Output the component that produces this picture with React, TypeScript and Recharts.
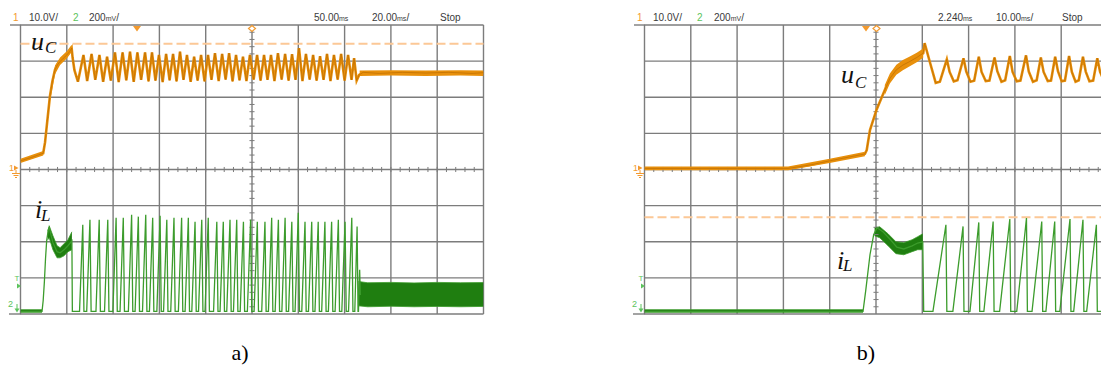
import {
  ComposedChart,
  Line,
  Area,
  XAxis,
  YAxis,
  CartesianGrid,
  ReferenceLine,
} from "recharts";

const ORANGE = "#E8900C";
const ORANGE_CORE = "#B86A00";
const GREEN = "#3C9C2C";
const GREEN_DK = "#1F7E10";
const GRID = "#7c7c7c";
const DASH = "#FCC896";
const MARK_OR = "#F39A2E";
const MARK_GR = "#5CC35C";

// graticule: 10 x 8 divisions, ch1 10 V/div, ch2 200 mV/div
const VOLT_TICKS = [-40, -30, -20, -10, 0, 10, 20, 30, 40];
const TIME_A = [0, 20, 40, 60, 80, 100, 120, 140, 160, 180, 200]; // 20 ms/div
const TIME_B = [0, 10, 20, 30, 40, 50, 60, 70, 80, 90, 100]; // 10 ms/div

// ---- panel a) : [t ms, uC V] ----
const UC_A = [
  [0, 2.4], [5, 3.4], [9.8, 4.5], [10.6, 7.5], [11.5, 13], [12.7, 20.2], [13.8, 24.5],
  [14.9, 27.6], [16, 29], [17.1, 29.9], [18.5, 30.8], [20, 31.7], [21.2, 32.6], [22.1, 33.6],
  [22.5, 31], [23.3, 27.5], [24.8, 24.3],
  [27.2, 31.7], [28.8, 24.5], [30.7, 32.0], [32.3, 24.8], [34.1, 31.7], [35.7, 24.3],
  [37.4, 31.2], [39.0, 24.6], [40.8, 32.4], [42.4, 24.2], [44.1, 32.4], [45.7, 24.7],
  [47.3, 32.6], [48.9, 24.3], [50.5, 32.4], [52.1, 24.8], [53.8, 32.4], [55.3, 24.4],
  [56.8, 32.4], [58.3, 24.6], [59.8, 31.7], [61.4, 24.2], [62.9, 32.0], [64.4, 24.7],
  [65.9, 32.0], [67.4, 24.4], [68.9, 32.6], [70.4, 24.8], [71.9, 31.7], [73.5, 24.3],
  [75.0, 31.2], [76.5, 24.6], [78.0, 31.7], [79.5, 24.4], [81.0, 31.7], [82.5, 24.8],
  [84.0, 32.2], [85.6, 24.5], [87.1, 32.0], [88.6, 24.9], [90.1, 32.2], [91.6, 24.4],
  [93.1, 31.7], [94.6, 24.7], [96.1, 31.2], [97.6, 24.5], [99.1, 31.7], [100.7, 24.9],
  [102.2, 31.7], [103.7, 24.6], [105.2, 31.7], [106.7, 24.8], [108.2, 31.7], [109.7, 24.5],
  [111.2, 32.2], [112.8, 24.9], [114.3, 32.0], [115.8, 24.6], [117.3, 31.9], [118.8, 24.8],
  [120.3, 33.6], [121.8, 24.5], [123.3, 32.0], [124.9, 24.9], [126.4, 31.7], [127.9, 24.6],
  [129.4, 31.4], [130.9, 24.8], [132.4, 32.0], [133.9, 24.5], [135.4, 31.7], [137.0, 24.9],
  [138.5, 32.0], [140.0, 24.6], [141.5, 31.7], [143.0, 24.8], [144.1, 30.8], [145.2, 24.6],
  [146.3, 26.2], [148, 26.9], [155, 26.6], [165, 26.9], [175, 26.7], [185, 26.9],
  [195, 26.6], [200, 26.8],
];
// [t, lo, hi] noisy / thick parts of uC
const UC_A_BANDS = [
  [[0, 1.8, 3.0], [9.8, 3.9, 5.1]],
  [[12.7, 18.8, 21.4], [14.9, 26.4, 28.8], [17.1, 28.9, 31.0], [20, 30.7, 32.7], [22.1, 32.5, 34.5]],
  [[146.5, 25.9, 27.4], [160, 26.0, 27.5], [175, 25.9, 27.4], [190, 26.0, 27.5], [200, 25.9, 27.4]],
];

// [t ms, iL mV]
const IL_A = [
  [0, 0], [9.3, 0], [9.8, 60], [10.3, 160], [10.8, 290], [11.3, 390], [12.0, 450], [12.4, 462],
  [14.0, 380], [15.8, 330], [17.1, 324], [18.8, 340], [20.5, 363], [22.2, 390], [22.4, 0],
  [25.5, 0], [26.9, 479], [27.4, 0], [28.6, 0], [30.0, 507], [30.5, 0],
  [32.6, 0], [34.0, 507], [34.5, 0], [36.3, 0], [37.7, 507], [38.2, 0],
  [39.9, 0], [41.3, 518], [41.8, 0], [43.0, 0], [44.4, 518], [44.9, 0],
  [46.6, 0], [48.0, 535], [48.5, 0], [49.5, 0], [50.9, 524], [51.4, 0],
  [52.7, 0], [54.1, 535], [54.6, 0], [55.7, 0], [57.1, 518], [57.6, 0],
  [58.9, 0], [60.3, 529], [60.8, 0], [61.8, 0], [63.2, 507], [63.7, 0],
  [64.9, 0], [66.3, 518], [66.8, 0], [68.2, 0], [69.6, 518], [70.1, 0],
  [71.1, 0], [72.5, 518], [73.0, 0], [74.0, 0], [75.4, 496], [75.9, 0],
  [76.9, 0], [78.3, 507], [78.8, 0], [79.7, 0], [81.1, 518], [81.6, 0],
  [83.4, 0], [84.8, 496], [85.3, 0], [86.2, 0], [87.6, 496], [88.1, 0],
  [89.1, 0], [90.5, 507], [91.0, 0], [92.0, 0], [93.4, 507], [93.9, 0],
  [94.9, 0], [96.3, 496], [96.8, 0], [98.0, 0], [99.4, 507], [99.9, 0],
  [100.9, 0], [102.3, 496], [102.8, 0], [104.2, 0], [105.6, 496], [106.1, 0],
  [107.1, 0], [108.5, 518], [109.0, 0], [110.0, 0], [111.4, 507], [111.9, 0],
  [112.9, 0], [114.3, 518], [114.8, 0], [115.8, 0], [117.2, 496], [117.7, 0],
  [118.6, 0], [120.0, 546], [120.5, 0], [121.5, 0], [122.9, 496], [123.4, 0],
  [124.4, 0], [125.8, 496], [126.3, 0], [127.2, 0], [128.6, 496], [129.1, 0],
  [130.1, 0], [131.5, 496], [132.0, 0], [133.0, 0], [134.4, 496], [134.9, 0],
  [135.9, 0], [137.3, 507], [137.8, 0], [138.8, 0], [140.2, 496], [140.7, 0],
  [141.7, 0], [143.1, 518], [143.6, 0], [144.4, 0], [145.4, 470], [145.8, 0],
  [146.0, 0], [146.5, 230], [146.8, 90],
];
const IL_A_BANDS = [
  [[0, -6, 9], [9.3, -6, 9]],
  [[11.8, 396, 445], [12.4, 407, 474], [14.0, 341, 418], [15.8, 296, 363], [17.1, 296, 352],
    [18.8, 307, 374], [20.5, 330, 396], [22.2, 341, 440]],
  [[146.0, 30, 165], [150, 25, 158], [160, 28, 160], [170, 25, 157], [180, 27, 160],
    [190, 25, 158], [200, 27, 159]],
];

// ---- panel b) ----
const UC_B = [
  [0, 0.3], [20, 0.3], [31.0, 0.3], [36, 1.3], [40, 2.4], [44, 3.4], [47.6, 4.3], [48.0, 5.4],
  [48.7, 10.9], [50.1, 16.5], [51.9, 22.0], [53.0, 25.2], [54.4, 27.6], [55.8, 28.9],
  [57.3, 29.9], [58.8, 31.0], [60.2, 32.2],
  [60.5, 35.0], [61.6, 29.9], [62.9, 24.0], [63.8, 24.3],
  [65.3, 30.5], [65.9, 27.0], [66.8, 24.4], [67.6, 24.7],
  [68.9, 30.8], [69.5, 27.1], [70.4, 24.3], [71.2, 24.6],
  [72.2, 31.2], [72.8, 27.0], [73.7, 24.5], [74.5, 24.6],
  [75.6, 31.0], [76.2, 27.2], [77.1, 24.3], [77.9, 24.7],
  [78.9, 31.4], [79.5, 27.0], [80.4, 24.4], [81.2, 24.6],
  [82.4, 31.6], [83.0, 27.1], [83.9, 24.3], [84.7, 24.7],
  [85.6, 31.0], [86.2, 27.0], [87.1, 24.5], [87.8, 24.6],
  [88.7, 31.2], [89.3, 27.2], [90.1, 24.4], [90.8, 24.6],
  [91.7, 31.4], [92.3, 27.0], [93.1, 24.3], [93.8, 24.7],
  [94.7, 31.2], [95.3, 27.1], [96.1, 24.4], [96.9, 24.6],
  [97.8, 30.8], [98.4, 27.0], [99.3, 24.4], [100, 24.6],
];
const UC_B_BANDS = [
  [[0, -0.2, 0.8], [31.0, -0.2, 0.8], [40, 1.8, 3.0], [47.6, 3.7, 4.9]],
  [[51.9, 20.6, 23.4], [53.0, 23.8, 26.6], [54.4, 26.2, 29.0], [55.8, 27.5, 30.3],
    [57.3, 28.6, 31.3], [58.8, 29.7, 32.3], [60.2, 30.9, 33.5]],
];

const IL_B = [
  [0, 0], [20, 0], [47.2, 0], [47.8, 119], [48.7, 313], [49.5, 424], [50.2, 463],
  [51.5, 440], [53.0, 400], [54.5, 355], [56.0, 345], [57.8, 362], [59.0, 378], [60.1, 385],
  [60.3, 0],
  [62.3, 0], [65.1, 479], [65.3, 0], [66.6, 0], [68.8, 470], [69.0, 0],
  [70.3, 0], [72.2, 492], [72.4, 0], [73.3, 0], [75.3, 497], [75.5, 0],
  [76.7, 0], [78.9, 511], [79.1, 0], [80.4, 0], [82.5, 516], [82.7, 0],
  [83.7, 0], [85.8, 497], [86.0, 0], [86.7, 0], [88.6, 497], [88.8, 0],
  [89.7, 0], [91.9, 511], [92.1, 0], [92.7, 0], [94.7, 507], [94.9, 0],
  [95.5, 0], [97.6, 479], [97.8, 0], [100, 0],
];
const IL_B_BANDS = [
  [[0, -6, 9], [47.2, -6, 9]],
  [[49.7, 418, 463], [50.8, 407, 468], [52.6, 363, 429], [54.3, 319, 385], [56.0, 313, 380],
    [57.8, 330, 396], [59.0, 341, 413], [60.1, 341, 429]],
];

// minor graticule marks on the centre lines
const MINOR_V = Array.from({ length: 39 }, (_, i) => -38 + i * 2);
const minorT = (step: number) => Array.from({ length: 49 }, (_, i) => (i + 1) * step);

const pts = (a: number[][]) => a.map(([t, v]) => ({ t, v }));
const band = (a: number[][]) => a.map(([t, lo, hi]) => ({ t, r: [lo, hi] }));

type PanelProps = {
  left: number;
  tMax: number;
  tTicks: number[];
  tStep: number;
  tHalf: number;
  uc: number[][];
  ucBands: number[][][];
  il: number[][];
  ilBands: number[][][];
  dashAxis: "u" | "i";
  dashY: number;
};

function Panel(p: PanelProps) {
  const mid = p.tMax / 2;
  return (
    <div style={{ position: "absolute", left: p.left, top: 0 }}>
      <ComposedChart
        width={500}
        height={330}
        margin={{ top: 25, right: 16.5, bottom: 16, left: 20.5 }}
      >
        <XAxis type="number" dataKey="t" domain={[0, p.tMax]} ticks={p.tTicks} hide allowDataOverflow />
        <YAxis yAxisId="u" type="number" domain={[-40, 40]} ticks={VOLT_TICKS} hide allowDataOverflow />
        <YAxis yAxisId="i" type="number" domain={[-15, 1585]} hide allowDataOverflow />
        <CartesianGrid yAxisId="u" stroke={GRID} strokeWidth={1.4} />
        {minorT(p.tStep).map((t) => (
          <ReferenceLine
            key={"mt" + t}
            yAxisId="u"
            segment={[{ x: t, y: -0.7 }, { x: t, y: 0.7 }]}
            stroke={GRID}
          />
        ))}
        {MINOR_V.map((v) => (
          <ReferenceLine
            key={"mv" + v}
            yAxisId="u"
            segment={[{ x: mid - p.tHalf, y: v }, { x: mid + p.tHalf, y: v }]}
            stroke={GRID}
          />
        ))}
        <ReferenceLine
          yAxisId={p.dashAxis}
          y={p.dashY}
          stroke={DASH}
          strokeWidth={2}
          strokeDasharray="9 4"
        />
        {p.ucBands.map((b, i) => (
          <Area
            key={"ub" + i}
            yAxisId="u"
            data={band(b)}
            dataKey="r"
            type="linear"
            stroke="none"
            fill={ORANGE}
            fillOpacity={1}
            dot={false}
            activeDot={false}
            isAnimationActive={false}
          />
        ))}
        <Line yAxisId="u" data={pts(p.uc)} dataKey="v" type="linear" stroke={ORANGE}
          strokeWidth={2.6} dot={false} activeDot={false} isAnimationActive={false} />
        <Line yAxisId="u" data={pts(p.uc)} dataKey="v" type="linear" stroke={ORANGE_CORE}
          strokeWidth={0.8} strokeOpacity={0.8} dot={false} activeDot={false} isAnimationActive={false} />
        {p.ilBands.map((b, i) => (
          <Area
            key={"ib" + i}
            yAxisId="i"
            data={band(b)}
            dataKey="r"
            type="linear"
            stroke={GREEN}
            strokeWidth={0.8}
            fill={GREEN_DK}
            fillOpacity={1}
            dot={false}
            activeDot={false}
            isAnimationActive={false}
          />
        ))}
        <Line yAxisId="i" data={pts(p.il)} dataKey="v" type="linear" stroke={GREEN}
          strokeWidth={1.3} dot={false} activeDot={false} isAnimationActive={false} />
      </ComposedChart>
    </div>
  );
}

const HEAD = { fontFamily: "'Liberation Sans', Arial, sans-serif", fontSize: 10, fill: "#3a3a3a" };
const SERIF = "'Liberation Serif', 'Times New Roman', serif";

function Unit({ u }: { u: string }) {
  return <tspan fontSize={7}>{u}</tspan>;
}

function ChannelMarks({ dx }: { dx: number }) {
  return (
    <g transform={`translate(${dx},0)`}>
      <line x1={10} y1={25} x2={21} y2={25} stroke={GRID} strokeWidth={1.4} />
      <line x1={9} y1={314} x2={21} y2={314} stroke={GRID} strokeWidth={1.4} />
      <text x={9} y={171} fontSize={9} fill={MARK_OR} fontFamily="'Liberation Sans', sans-serif">1</text>
      <polygon points="14,165.5 14,170.5 18.5,168" fill={MARK_OR} />
      <line x1={16} y1={170} x2={16} y2={173} stroke={MARK_OR} />
      <line x1={12} y1={173.5} x2={20} y2={173.5} stroke={MARK_OR} />
      <line x1={13.5} y1={175.5} x2={18.5} y2={175.5} stroke={MARK_OR} />
      <line x1={15} y1={177.5} x2={17} y2={177.5} stroke={MARK_OR} />
      <text x={14.5} y={281} fontSize={8} fill={MARK_GR} fontFamily="'Liberation Sans', sans-serif">T</text>
      <polygon points="17,283.5 17,288.5 21,286" fill={MARK_GR} />
      <text x={8} y={307} fontSize={9} fill={MARK_GR} fontFamily="'Liberation Sans', sans-serif">2</text>
      <line x1={17} y1={304} x2={17} y2={310} stroke={MARK_GR} />
      <polygon points="14.5,308.5 19.5,308.5 17,312.5" fill={MARK_GR} />
    </g>
  );
}

function TrigMarks({ tri, dia }: { tri: number; dia: number }) {
  return (
    <g>
      <polygon points={`${tri - 4},26 ${tri + 4},26 ${tri},31.5`} fill={MARK_OR} />
      <polygon
        points={`${dia},25.5 ${dia + 3.5},28.5 ${dia},31.5 ${dia - 3.5},28.5`}
        fill="#fff"
        stroke={MARK_OR}
        strokeWidth={1.2}
      />
    </g>
  );
}

export default function App() {
  return (
    <div
      style={{
        position: "absolute",
        left: 0,
        top: 0,
        width: 1101,
        height: 367,
        overflow: "hidden",
        background: "#fff",
      }}
    >
      <Panel
        left={0}
        tMax={200}
        tTicks={TIME_A}
        tStep={4}
        tHalf={1.1}
        uc={UC_A}
        ucBands={UC_A_BANDS}
        il={IL_A}
        ilBands={IL_A_BANDS}
        dashAxis="u"
        dashY={34.8}
      />
      <Panel
        left={624}
        tMax={100}
        tTicks={TIME_B}
        tStep={2}
        tHalf={0.55}
        uc={UC_B}
        ucBands={UC_B_BANDS}
        il={IL_B}
        ilBands={IL_B_BANDS}
        dashAxis="i"
        dashY={520}
      />
      <svg
        width={1101}
        height={367}
        style={{ position: "absolute", left: 0, top: 0, pointerEvents: "none" }}
      >
        <ChannelMarks dx={0} />
        <ChannelMarks dx={624} />
        <TrigMarks tri={137} dia={252} />
        <TrigMarks tri={866} dia={876.5} />

        <g style={HEAD as any}>
          <text x={13} y={21} fill={MARK_OR}>1</text>
          <text x={29} y={21}>10.0V/</text>
          <text x={73} y={21} fill={MARK_GR}>2</text>
          <text x={89} y={21}>200<Unit u="mV" />/</text>
          <text x={314} y={21}>50.00<Unit u="ms" /></text>
          <text x={372} y={21}>20.00<Unit u="ms" />/</text>
          <text x={440} y={21}>Stop</text>

          <text x={637} y={21} fill={MARK_OR}>1</text>
          <text x={653} y={21}>10.0V/</text>
          <text x={697} y={21} fill={MARK_GR}>2</text>
          <text x={714} y={21}>200<Unit u="mV" />/</text>
          <text x={938} y={21}>2.240<Unit u="ms" /></text>
          <text x={996} y={21}>10.00<Unit u="ms" />/</text>
          <text x={1062} y={21}>Stop</text>
        </g>

        <g fontFamily={SERIF} fontStyle="italic" fill="#111">
          <text x={31} y={50} fontSize={26}>u</text>
          <text x={45} y={53} fontSize={17}>C</text>
          <text x={35} y={218} fontSize={26}>i</text>
          <text x={41} y={221} fontSize={17}>L</text>

          <text x={841} y={83} fontSize={26}>u</text>
          <text x={855} y={88} fontSize={17}>C</text>
          <text x={837} y={269} fontSize={26}>i</text>
          <text x={843} y={271} fontSize={17}>L</text>
        </g>

        <g fontFamily={SERIF} fontSize={22} fill="#000" textAnchor="middle">
          <text x={240} y={360}>a)</text>
          <text x={866} y={360}>b)</text>
        </g>
      </svg>
    </div>
  );
}
